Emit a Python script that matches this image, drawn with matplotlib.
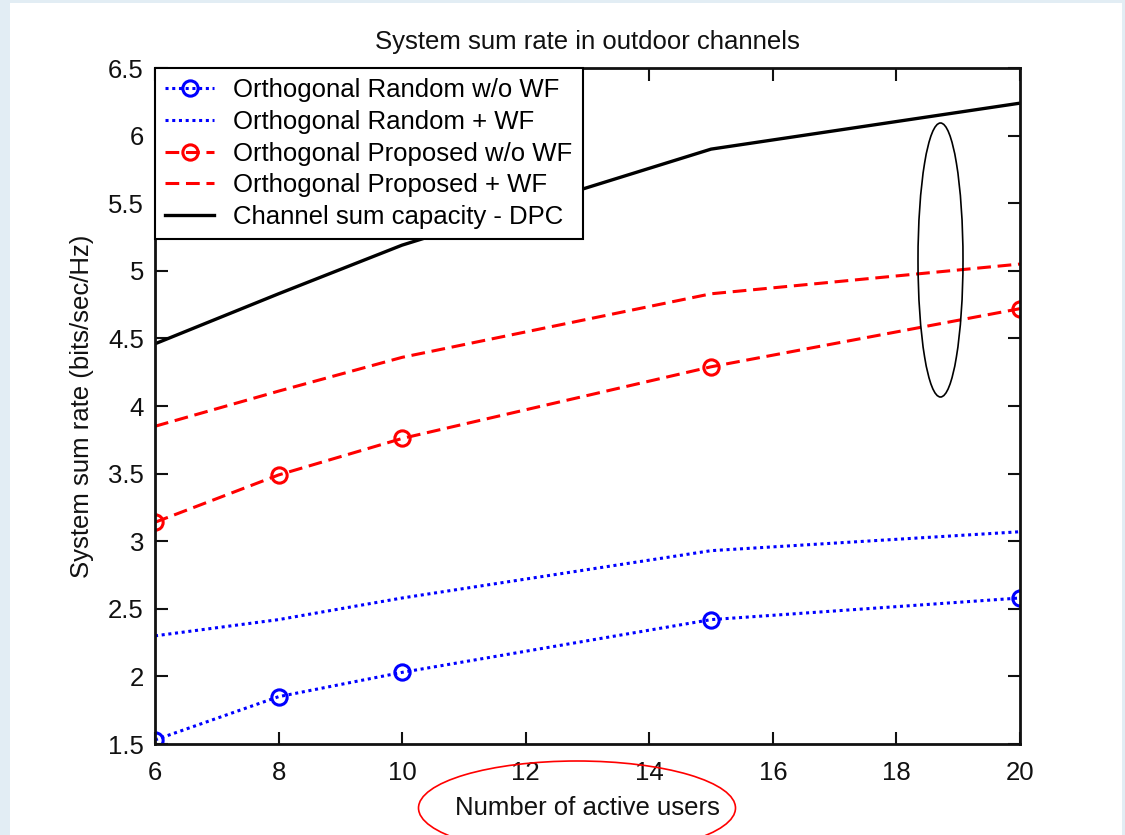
import matplotlib
matplotlib.use("Agg")
import matplotlib.pyplot as plt
from matplotlib.patches import Ellipse, Rectangle

plt.rcParams['font.family'] = ['Liberation Sans', 'DejaVu Sans']

users = [6, 8, 10, 15, 20]
random_nowf = [1.53, 1.85, 2.03, 2.42, 2.58]
random_wf = [2.30, 2.42, 2.58, 2.93, 3.07]
proposed_nowf = [3.14, 3.49, 3.76, 4.29, 4.72]
proposed_wf = [3.85, 4.11, 4.36, 4.83, 5.05]
dpc = [4.46, 4.83, 5.19, 5.90, 6.24]

labels = ['Orthogonal Random w/o WF', 'Orthogonal Random + WF',
          'Orthogonal Proposed w/o WF', 'Orthogonal Proposed + WF',
          'Channel sum capacity - DPC']

fs = 18.5

fig = plt.figure(figsize=(11.25, 8.35), dpi=100, facecolor='#e2edf4')
# white page inside the pale frame
fig.patches.append(Rectangle((10 / 1125, 0), 1112 / 1125, 1 - 3 / 835,
                             transform=fig.transFigure, facecolor='white',
                             edgecolor='none', zorder=-10))

ax = fig.add_axes([155 / 1125, 1 - 744 / 835, 865 / 1125, 676 / 835])
ax.set_facecolor('white')

dots = (0, (1, 1.2))
dashes = (0, (4.5, 2.2))
ax.plot(users, random_nowf, color='blue', ls=dots, lw=2.2, marker='o',
        ms=11, mfc='none', mew=2.2, label=labels[0])
ax.plot(users, random_wf, color='blue', ls=dots, lw=2.2, label=labels[1])
ax.plot(users, proposed_nowf, color='red', ls=dashes, lw=2.2, marker='o',
        ms=11, mfc='none', mew=2.2, label=labels[2])
ax.plot(users, proposed_wf, color='red', ls=dashes, lw=2.2, label=labels[3])
ax.plot(users, dpc, color='black', ls='-', lw=2.4, label=labels[4])

ax.set_xlim(6, 20)
ax.set_ylim(1.5, 6.5)
ax.set_xticks([6, 8, 10, 12, 14, 16, 18, 20])
ax.set_yticks([1.5, 2, 2.5, 3, 3.5, 4, 4.5, 5, 5.5, 6, 6.5])
ax.set_yticklabels(['1.5', '2', '2.5', '3', '3.5', '4', '4.5', '5', '5.5', '6', '6.5'])
ax.tick_params(direction='in', length=9, width=1.5, labelsize=fs,
               top=True, right=True, colors='#111111')
ax.tick_params(axis='x', pad=12)
ax.tick_params(axis='y', pad=8)
for s in ax.spines.values():
    s.set_linewidth(2)
    s.set_color('#111111')

ax.set_title('System sum rate in outdoor channels', fontsize=fs, pad=14, color='#111111')
ax.set_xlabel('Number of active users', fontsize=fs, labelpad=8, color='#111111')
ax.set_ylabel('System sum rate (bits/sec/Hz)', fontsize=fs, labelpad=10, color='#111111')

leg = ax.legend(loc='upper left', fontsize=fs, frameon=True, fancybox=False,
                borderaxespad=0, handlelength=1.9, handletextpad=0.75,
                labelspacing=0.3, borderpad=0.4, edgecolor='black')
leg.get_frame().set_linewidth(1.5)
leg.get_frame().set_facecolor('white')
leg.get_frame().set_alpha(1)

# hand-drawn highlight ellipses
fig.patches.append(Ellipse((940.5 / 1125, 1 - 260 / 835), 45 / 1125, 274 / 835,
                           transform=fig.transFigure, fill=False,
                           edgecolor='black', lw=1.2, zorder=5))
fig.patches.append(Ellipse((577 / 1125, 1 - 808 / 835), 317 / 1125, 94 / 835,
                           transform=fig.transFigure, fill=False,
                           edgecolor='red', lw=1.2, zorder=5))

fig.savefig('out.png', dpi=100, facecolor=fig.get_facecolor())
